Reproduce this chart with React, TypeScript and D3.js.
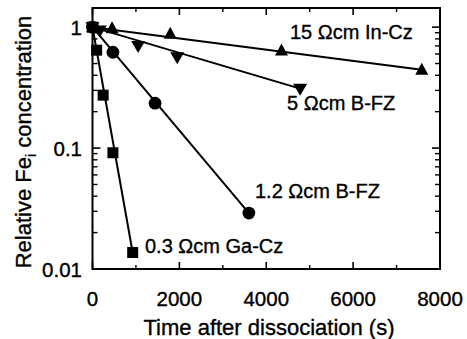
import React from "react";
import * as d3 from "d3";

const W = 467;
const H = 339;
const margin = { left: 92.5, right: W - 440, top: 8, bottom: H - 269 };

const xTicksMajor = [0, 2000, 4000, 6000, 8000];
const xTicksMinor = [1000, 3000, 5000, 7000];
const yTicksMajor = [1, 0.1, 0.01];
const yTickLabels = ["1", "0.1", "0.01"];

const inCzT = [0, 450, 1790, 4350, 7580];
const inCzV = [1.0, 0.98, 0.88, 0.64, 0.445];

const bfz5T = [0, 170, 1050, 1950, 4780];
const bfz5V = [1.0, 0.94, 0.7, 0.565, 0.31];

const bfz12T = [0, 470, 1440, 3600];
const bfz12V = [1.0, 0.62, 0.235, 0.029];

const gaCzT = [0, 95, 245, 470, 925];
const gaCzV = [1.0, 0.645, 0.274, 0.0915, 0.0137];

const seriesNames = ["15 Ωcm In-Cz", "5 Ωcm B-FZ", "1.2 Ωcm B-FZ", "0.3 Ωcm Ga-Cz"];

const FONT = "'Liberation Sans', Arial, Helvetica, sans-serif";

export default function App() {
  const x = d3.scaleLinear().domain([0, 8000]).range([margin.left, W - margin.right]);
  const y = d3.scaleLog().domain([0.01, 1.44]).range([H - margin.bottom, margin.top]);
  const x0 = margin.left, x1 = W - margin.right, y0 = H - margin.bottom, y1 = margin.top;

  const minorY: number[] = [];
  for (const dec of [0.01, 0.1]) for (let k = 2; k <= 9; k++) minorY.push(dec * k);

  const line = d3.line<[number, number]>().x((d) => x(d[0])).y((d) => y(d[1]));

  const series = [
    { t: inCzT, v: inCzV, marker: "up", label: seriesNames[0], lx: 290, ly: 39 },
    { t: bfz5T, v: bfz5V, marker: "down", label: seriesNames[1], lx: 287, ly: 110 },
    { t: bfz12T, v: bfz12V, marker: "circle", label: seriesNames[2], lx: 255, ly: 198 },
    { t: gaCzT, v: gaCzV, marker: "square", label: seriesNames[3], lx: 145, ly: 253 },
  ];

  const sym = (m: string, cx: number, cy: number, key: string) => {
    if (m === "circle") return <circle key={key} cx={cx} cy={cy} r={6.4} fill="#000" />;
    if (m === "square") return <rect key={key} x={cx - 5.5} y={cy - 5.5} width={11} height={11} fill="#000" />;
    if (m === "up")
      return <path key={key} d={`M${cx},${cy - 7}L${cx + 6.5},${cy + 5}L${cx - 6.5},${cy + 5}Z`} fill="#000" />;
    return <path key={key} d={`M${cx},${cy + 7}L${cx + 7},${cy - 5}L${cx - 7},${cy - 5}Z`} fill="#000" />;
  };

  const textStroke = { stroke: "#000", strokeWidth: 0.35 };

  return (
    <svg width={W} height={H} style={{ position: "absolute", left: 0, top: 0, background: "#fff" }} fontFamily={FONT}>
      <rect x={0} y={0} width={W} height={H} fill="#fff" />
      {/* lines */}
      {series.map((s, i) => {
        const n = s.t.length - 1;
        const pts: [number, number][] = [[s.t[0], s.v[0]], [s.t[n], s.v[n]]];
        return <path key={"l" + i} d={line(pts) || ""} stroke="#000" strokeWidth={2} fill="none" />;
      })}
      {/* markers */}
      {series.map((s, i) => s.t.map((t, j) => sym(s.marker, x(t), y(s.v[j]), `m${i}-${j}`)))}
      {/* labels */}
      {series.map((s, i) => (
        <text key={"t" + i} x={s.lx} y={s.ly} fontSize={20} fill="#000" {...textStroke}>{s.label}</text>
      ))}
      {/* frame */}
      <rect x={x0} y={y1} width={x1 - x0} height={y0 - y1} fill="none" stroke="#000" strokeWidth={2} />
      {/* x ticks */}
      {xTicksMajor.map((t) => (
        <g key={"xt" + t}>
          <line x1={x(t)} x2={x(t)} y1={y0} y2={y0 - 7} stroke="#000" strokeWidth={1.6} />
          <line x1={x(t)} x2={x(t)} y1={y1} y2={y1 + 7} stroke="#000" strokeWidth={1.6} />
          <text x={x(t)} y={306} fontSize={20.5} textAnchor="middle" fill="#000" {...textStroke}>{t}</text>
        </g>
      ))}
      {xTicksMinor.map((t) => (
        <g key={"xm" + t}>
          <line x1={x(t)} x2={x(t)} y1={y0} y2={y0 - 4} stroke="#000" strokeWidth={1.4} />
          <line x1={x(t)} x2={x(t)} y1={y1} y2={y1 + 4} stroke="#000" strokeWidth={1.4} />
        </g>
      ))}
      {/* y ticks */}
      {yTicksMajor.map((v, i) => (
        <g key={"yt" + v}>
          <line x1={x0} x2={x0 + 8} y1={y(v)} y2={y(v)} stroke="#000" strokeWidth={1.6} />
          <line x1={x1} x2={x1 - 8} y1={y(v)} y2={y(v)} stroke="#000" strokeWidth={1.6} />
          <text x={82} y={y(v) + 7.5} fontSize={20.5} textAnchor="end" fill="#000" {...textStroke}>{yTickLabels[i]}</text>
        </g>
      ))}
      {minorY.map((v) => (
        <g key={"ym" + v}>
          <line x1={x0} x2={x0 + 5} y1={y(v)} y2={y(v)} stroke="#000" strokeWidth={1.4} />
          <line x1={x1} x2={x1 - 5} y1={y(v)} y2={y(v)} stroke="#000" strokeWidth={1.4} />
        </g>
      ))}
      {/* axis titles */}
      <text x={269} y={335} fontSize={22} textAnchor="middle" fill="#000" {...textStroke}>Time after dissociation (s)</text>
      <text transform={`translate(31,${142}) rotate(-90)`} fontSize={22} textAnchor="middle" fill="#000" {...textStroke}>
        Relative Fe<tspan fontSize={14} dy={5}>i</tspan><tspan dy={-5}> concentration</tspan>
      </text>
    </svg>
  );
}
